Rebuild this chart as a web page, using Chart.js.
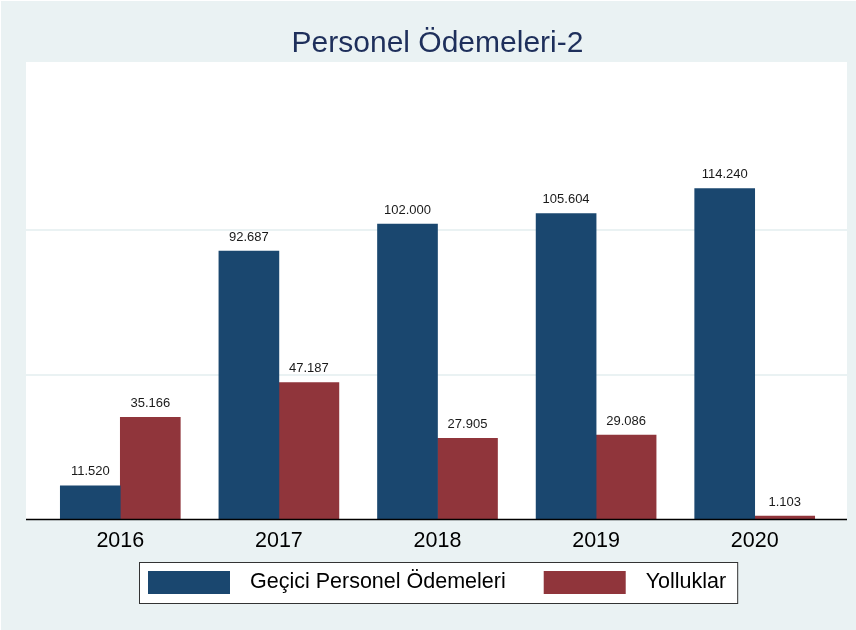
<!DOCTYPE html>
<html>
<head>
<meta charset="utf-8">
<script src="https://cdn.jsdelivr.net/npm/chart.js@4"></script>
<style>
    html, body { margin: 0; padding: 0; background: #eaf2f3; }
    #wrap { width: 856px; height: 630px; }
</style>
</head>
<body>
<div id="wrap"><canvas id="myChart"></canvas></div>
<script>
const years = ['2016', '2017', '2018', '2019', '2020'];
const geciciValues = [11520, 92687, 102000, 105604, 114240];
const yollukValues = [35166, 47187, 27905, 29086, 1103];
const gridValues = [50000, 100000];

const bgColor = '#eaf2f3';
const fontFamily = '"Liberation Sans", Arial, Helvetica, sans-serif';

// Turkish style thousands separator: 92687 -> 92.687
function fmt(v) {
    return String(v).replace(/\B(?=(\d{3})+(?!\d))/g, '.');
}

// outer background, white plot region a bit wider than the category area, grid lines
const plotBackground = {
    id: 'plotBackground',
    beforeDraw(chart) {
        const {ctx, chartArea, scales} = chart;
        ctx.save();
        ctx.fillStyle = '#ffffff';
        ctx.fillRect(0, 0, chart.width, chart.height);
        ctx.fillStyle = bgColor;
        ctx.fillRect(1, 1, chart.width - 1, chart.height - 1);

        const left = chartArea.left - 15;
        const right = chartArea.right + 13;
        ctx.fillStyle = '#ffffff';
        ctx.fillRect(left, chartArea.top, right - left, chartArea.bottom - chartArea.top);

        ctx.strokeStyle = bgColor;
        ctx.lineWidth = 2;
        gridValues.forEach(v => {
            const y = Math.round(scales.y.getPixelForValue(v));
            ctx.beginPath();
            ctx.moveTo(left, y);
            ctx.lineTo(right, y);
            ctx.stroke();
        });
        ctx.restore();
    },
    afterDatasetsDraw(chart) {
        const {ctx, chartArea, scales} = chart;
        const y0 = Math.round(scales.y.getPixelForValue(0)) + 0.5;
        ctx.save();
        ctx.strokeStyle = '#000000';
        ctx.lineWidth = 1.5;
        ctx.beginPath();
        ctx.moveTo(chartArea.left - 15, y0);
        ctx.lineTo(chartArea.right + 13, y0);
        ctx.stroke();
        ctx.restore();
    }
};

// value labels above each bar
const valueLabels = {
    id: 'valueLabels',
    afterDatasetsDraw(chart) {
        const ctx = chart.ctx;
        ctx.save();
        ctx.font = '13px ' + fontFamily;
        ctx.fillStyle = '#1a1a1a';
        ctx.textAlign = 'center';
        ctx.textBaseline = 'middle';
        chart.data.datasets.forEach((ds, i) => {
            chart.getDatasetMeta(i).data.forEach((bar, j) => {
                ctx.fillText(fmt(ds.data[j]), bar.x, bar.y - 14);
            });
        });
        ctx.restore();
    }
};

// boxed legend under the axis
const boxLegend = {
    id: 'boxLegend',
    afterDraw(chart) {
        const ctx = chart.ctx;
        const sw = 82, sh = 23, gapText = 20, gapItem = 38;
        const boxTop = 562, boxBottom = 603;
        ctx.save();
        ctx.font = '21.5px ' + fontFamily;
        const items = chart.data.datasets.map(ds => ({
            label: ds.label, color: ds.backgroundColor, w: ctx.measureText(ds.label).width
        }));
        let total = 0;
        items.forEach((it, i) => { total += sw + gapText + it.w + (i ? gapItem : 0); });
        const cx = (chart.chartArea.left + chart.chartArea.right) / 2;
        let x = Math.round(cx - total / 2);
        ctx.fillStyle = '#ffffff';
        ctx.fillRect(x - 9, boxTop, total + 20, boxBottom - boxTop);
        ctx.strokeStyle = '#333333';
        ctx.lineWidth = 1;
        ctx.strokeRect(x - 9 + 0.5, boxTop + 0.5, total + 20, boxBottom - boxTop);
        const midY = (boxTop + boxBottom) / 2;
        ctx.textBaseline = 'middle';
        ctx.textAlign = 'left';
        items.forEach((it, i) => {
            if (i) x += gapItem;
            ctx.fillStyle = it.color;
            ctx.fillRect(x, midY - sh / 2, sw, sh);
            x += sw + gapText;
            ctx.fillStyle = '#000000';
            ctx.fillText(it.label, x, midY);
            x += it.w;
        });
        ctx.restore();
    }
};

new Chart('myChart', {
    type: 'bar',
    data: {
        labels: years,
        datasets: [{
            label: 'Geçici Personel Ödemeleri',
            data: geciciValues,
            backgroundColor: '#1a476f',
            borderWidth: 0,
            barThickness: 60
        }, {
            label: 'Yolluklar',
            data: yollukValues,
            backgroundColor: '#90353b',
            borderWidth: 0,
            barThickness: 60
        }]
    },
    options: {
        responsive: true,
        maintainAspectRatio: false,
        animation: false,
        layout: {
            padding: { left: 41, right: 22, top: 0, bottom: 67 }
        },
        plugins: {
            legend: { display: false },
            tooltip: { enabled: false },
            title: {
                display: true,
                text: 'Personel Ödemeleri-2',
                color: '#1e2f5b',
                font: { family: fontFamily, size: 30, weight: 'normal' },
                padding: { top: 26, bottom: 0 }
            }
        },
        scales: {
            x: {
                grid: { display: false, drawTicks: false },
                border: { display: false },
                ticks: {
                    color: '#000000',
                    padding: 9,
                    font: { family: fontFamily, size: 21.5 }
                }
            },
            y: {
                display: false,
                min: 0,
                max: 158000
            }
        }
    },
    plugins: [plotBackground, valueLabels, boxLegend]
});
</script>
</body>
</html>
